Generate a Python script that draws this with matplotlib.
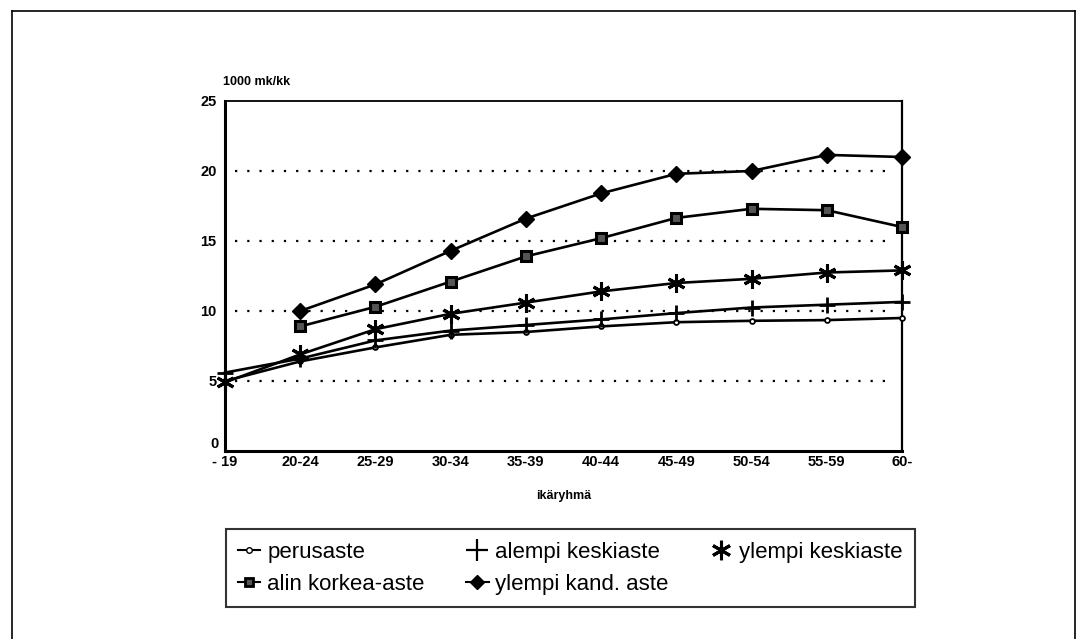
import matplotlib
matplotlib.use("Agg")
import matplotlib.pyplot as plt
from matplotlib.lines import Line2D
import numpy as np

plt.rcParams['font.family'] = ['Liberation Sans', 'DejaVu Sans']

categories = ['- 19', '20-24', '25-29', '30-34', '35-39', '40-44', '45-49', '50-54', '55-59', '60-']
perusaste = [5.0, 6.4, 7.4, 8.3, 8.5, 8.9, 9.2, 9.3, 9.35, 9.5]
alempi_keskiaste = [5.6, 6.6, 7.9, 8.6, 9.0, 9.4, 9.85, 10.25, 10.45, 10.65]
ylempi_keskiaste = [4.9, 6.9, 8.7, 9.8, 10.6, 11.4, 12.0, 12.3, 12.75, 12.9]
alin_korkea_aste = [np.nan, 8.9, 10.3, 12.1, 13.9, 15.2, 16.65, 17.3, 17.2, 16.0]
ylempi_kand_aste = [np.nan, 10.0, 11.9, 14.3, 16.6, 18.4, 19.8, 20.0, 21.15, 21.0]
yticks = [0, 5, 10, 15, 20, 25]

W, H = 1087, 639
fig = plt.figure(figsize=(W / 100, H / 100), dpi=100)

# outer frame (top, left, right)
fig.add_artist(Line2D([12 / W, 1075 / W], [1 - 11 / H, 1 - 11 / H], color='black', lw=1.2, transform=fig.transFigure))
fig.add_artist(Line2D([12 / W, 12 / W], [0, 1 - 11 / H], color='black', lw=1.2, transform=fig.transFigure))
fig.add_artist(Line2D([1075 / W, 1075 / W], [0, 1 - 11 / H], color='black', lw=1.2, transform=fig.transFigure))

left, right = 225 / W, 902 / W
bottom, top = 1 - 451 / H, 1 - 101 / H
ax = fig.add_axes([left, bottom, right - left, top - bottom])

x = np.arange(len(categories))
lw = 1.9
common = dict(color='black', lw=lw, zorder=3, clip_on=False)
ax.plot(x, perusaste, marker='o', ms=3.5, mfc='white', mec='black', mew=1.3, **common)
ax.plot(x, alempi_keskiaste, marker='+', ms=11, mew=2, **common)
ax.plot(x, ylempi_keskiaste, marker=(6, 2, 0), ms=13, mew=2.2, **common)
ax.plot(x, alin_korkea_aste, marker='s', ms=6.5, mfc='#555555', mec='black', mew=2.2, **common)
ax.plot(x, ylempi_kand_aste, marker='D', ms=8, mfc='black', mec='black', **common)

ax.set_xlim(0, 9)
ax.set_ylim(0, 25)
ax.set_yticks(yticks)
ax.set_yticklabels(['' if v == 0 else str(v) for v in yticks], fontsize=10.5, fontweight='bold')
# the "0" label sits slightly above the axis line, stacked over "- 19"
ax.annotate(str(yticks[0]), xy=(0, yticks[0]), xycoords=('axes fraction', 'data'),
            xytext=(-4.5, 5), textcoords='offset points', ha='right', va='center',
            fontsize=10.5, fontweight='bold')
ax.set_xticks(x)
ax.set_xticklabels(categories, fontsize=10.5, fontweight='bold')
ax.tick_params(axis='both', length=0)
ax.tick_params(axis='y', pad=6)
ax.tick_params(axis='x', pad=3)
for v in [5, 10, 15, 20]:
    ax.axhline(v, xmin=0.015, xmax=0.99, color='black', lw=1.6, ls=(0, (1, 4.5)), zorder=1)

ax.spines['left'].set_linewidth(2.2)
ax.spines['bottom'].set_linewidth(2.2)
ax.spines['top'].set_linewidth(1.3)
ax.spines['right'].set_linewidth(1.6)

fig.text(223 / W, 1 - 82 / H, '1000 mk/kk', fontsize=9, fontweight='bold', va='center', ha='left')
ax.set_xlabel('ikäryhmä', fontsize=9, fontweight='bold', labelpad=15)

h_per = Line2D([], [], color='black', lw=1.5, marker='o', ms=4, mfc='white', mec='black')
h_alk = Line2D([], [], color='black', lw=0, marker='+', ms=16, mew=1.6)
h_ylk = Line2D([], [], color='black', lw=0, marker=(6, 2, 0), ms=14, mew=2.2)
h_alin = Line2D([], [], color='black', lw=1.5, marker='s', ms=6, mfc='#555555', mec='black', mew=2)
h_kand = Line2D([], [], color='black', lw=1.5, marker='D', ms=7, mfc='black')
handles = [h_per, h_alin, h_alk, h_kand, h_ylk]
labels = ['perusaste', 'alin korkea-aste', 'alempi keskiaste', 'ylempi kand. aste', 'ylempi keskiaste']
leg = fig.legend(handles, labels, ncol=3, loc='lower left', mode='expand',
                 bbox_to_anchor=(226 / W, 1 - 607 / H, 689 / W, 87 / H), bbox_transform=fig.transFigure,
                 fontsize=16, frameon=True, fancybox=False, edgecolor='black',
                 handlelength=1.0, handletextpad=0.3, columnspacing=1.0,
                 labelspacing=0.5, borderpad=0.55, borderaxespad=0)
leg.get_frame().set_linewidth(1.5)

fig.savefig('out.png', dpi=100)
